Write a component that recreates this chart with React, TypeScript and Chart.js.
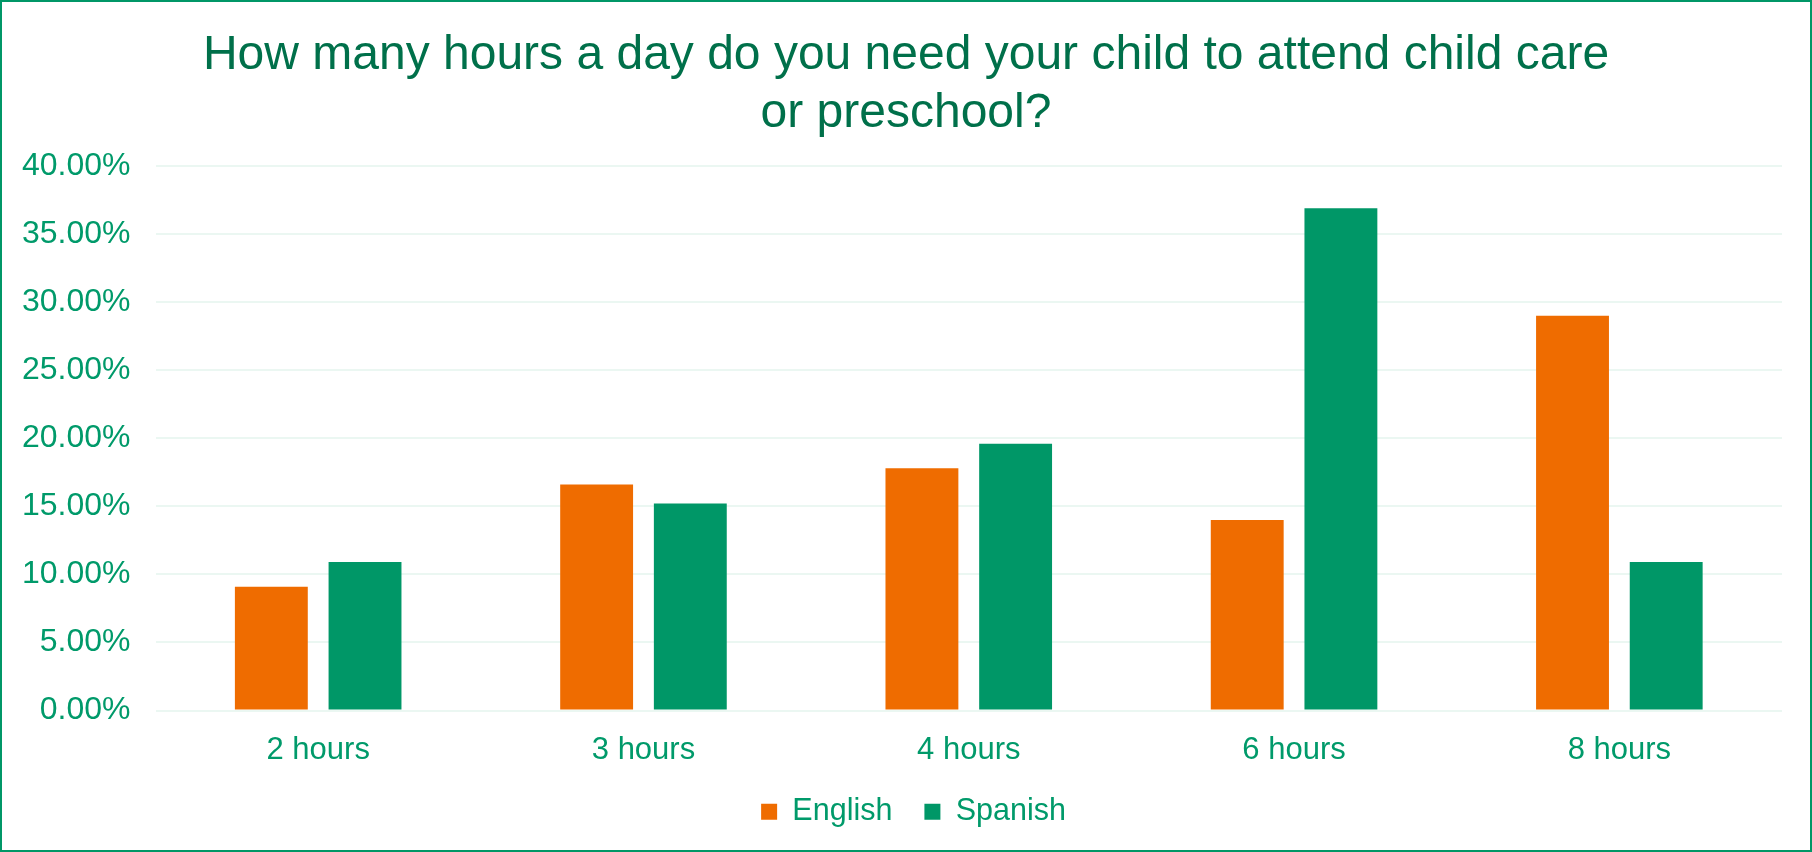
import React, { useEffect, useRef } from "react";
import { Chart, registerables } from "chart.js";

Chart.register(...registerables);

const categories = ["2 hours", "3 hours", "4 hours", "6 hours", "8 hours"];
const englishValues = [9.1, 16.6, 17.8, 14.0, 29.0];
const spanishValues = [10.9, 15.2, 19.6, 36.9, 10.9];
const titleLines = [
  "How many hours a day do you need your child to attend child care",
  "or preschool?",
];

const ORANGE = "#EF6C00";
const GREEN = "#009767";
const TITLE_GREEN = "#00704A";
const TICK_GREEN = "#009A6A";
const FONT = "'Liberation Sans', Arial, sans-serif";

const frameAndTitle = {
  id: "frameAndTitle",
  afterLayout(chart: any) {
    const lg = chart.legend;
    if (lg) {
      lg.left += 24;
      lg.right += 24;
    }
  },
  afterDraw(chart: any) {
    const ctx = chart.ctx;
    ctx.save();
    ctx.fillStyle = TITLE_GREEN;
    ctx.font = `normal 48px ${FONT}`;
    ctx.textAlign = "center";
    ctx.textBaseline = "middle";
    titleLines.forEach((line, i) => {
      ctx.fillText(line, chart.width / 2, 56 + i * 58);
    });
    ctx.strokeStyle = GREEN;
    ctx.lineWidth = 2;
    ctx.strokeRect(1, 1, chart.width - 2, chart.height - 2);
    ctx.restore();
  },
};

export default function App() {
  const ref = useRef<HTMLCanvasElement | null>(null);
  useEffect(() => {
    document.body.style.margin = "0";
    const chart = new Chart(ref.current as HTMLCanvasElement, {
      type: "bar",
      data: {
        labels: categories,
        datasets: [
          { label: "English", data: englishValues, backgroundColor: ORANGE },
          { label: "Spanish", data: spanishValues, backgroundColor: GREEN },
        ],
      },
      options: {
        animation: false,
        responsive: false,
        maintainAspectRatio: false,
        layout: { padding: { left: -3, right: 30, top: 166, bottom: 15 } },
        datasets: {
          bar: { categoryPercentage: 0.576, barPercentage: 0.778 },
        },
        plugins: {
          title: { display: false },
          legend: {
            display: true,
            position: "bottom",
            labels: {
              color: TICK_GREEN,
              font: { family: FONT, size: 30.5 },
              boxWidth: 16,
              boxHeight: 16,
              padding: 32,
            },
          },
          tooltip: { enabled: false },
        },
        scales: {
          x: {
            grid: { display: false, drawTicks: false },
            border: { display: false },
            ticks: {
              color: TICK_GREEN,
              font: { family: FONT, size: 31 },
              padding: 21,
            },
            afterFit: (scale: any) => {
              scale.height = 54;
            },
          },
          y: {
            min: 0,
            max: 40,
            grid: { color: "#EBF7F2", lineWidth: 2, drawTicks: false },
            border: { display: false },
            ticks: {
              stepSize: 5,
              color: TICK_GREEN,
              font: { family: FONT, size: 32 },
              padding: 25,
              callback: (v: any) => Number(v).toFixed(2) + "%",
            },
          },
        },
      },
      plugins: [frameAndTitle],
    } as any);
    return () => chart.destroy();
  }, []);
  return (
    <div style={{ position: "absolute", left: 0, top: 0, width: 1812, height: 852 }}>
      <canvas ref={ref} width={1812} height={852} style={{ width: 1812, height: 852 }} />
    </div>
  );
}
